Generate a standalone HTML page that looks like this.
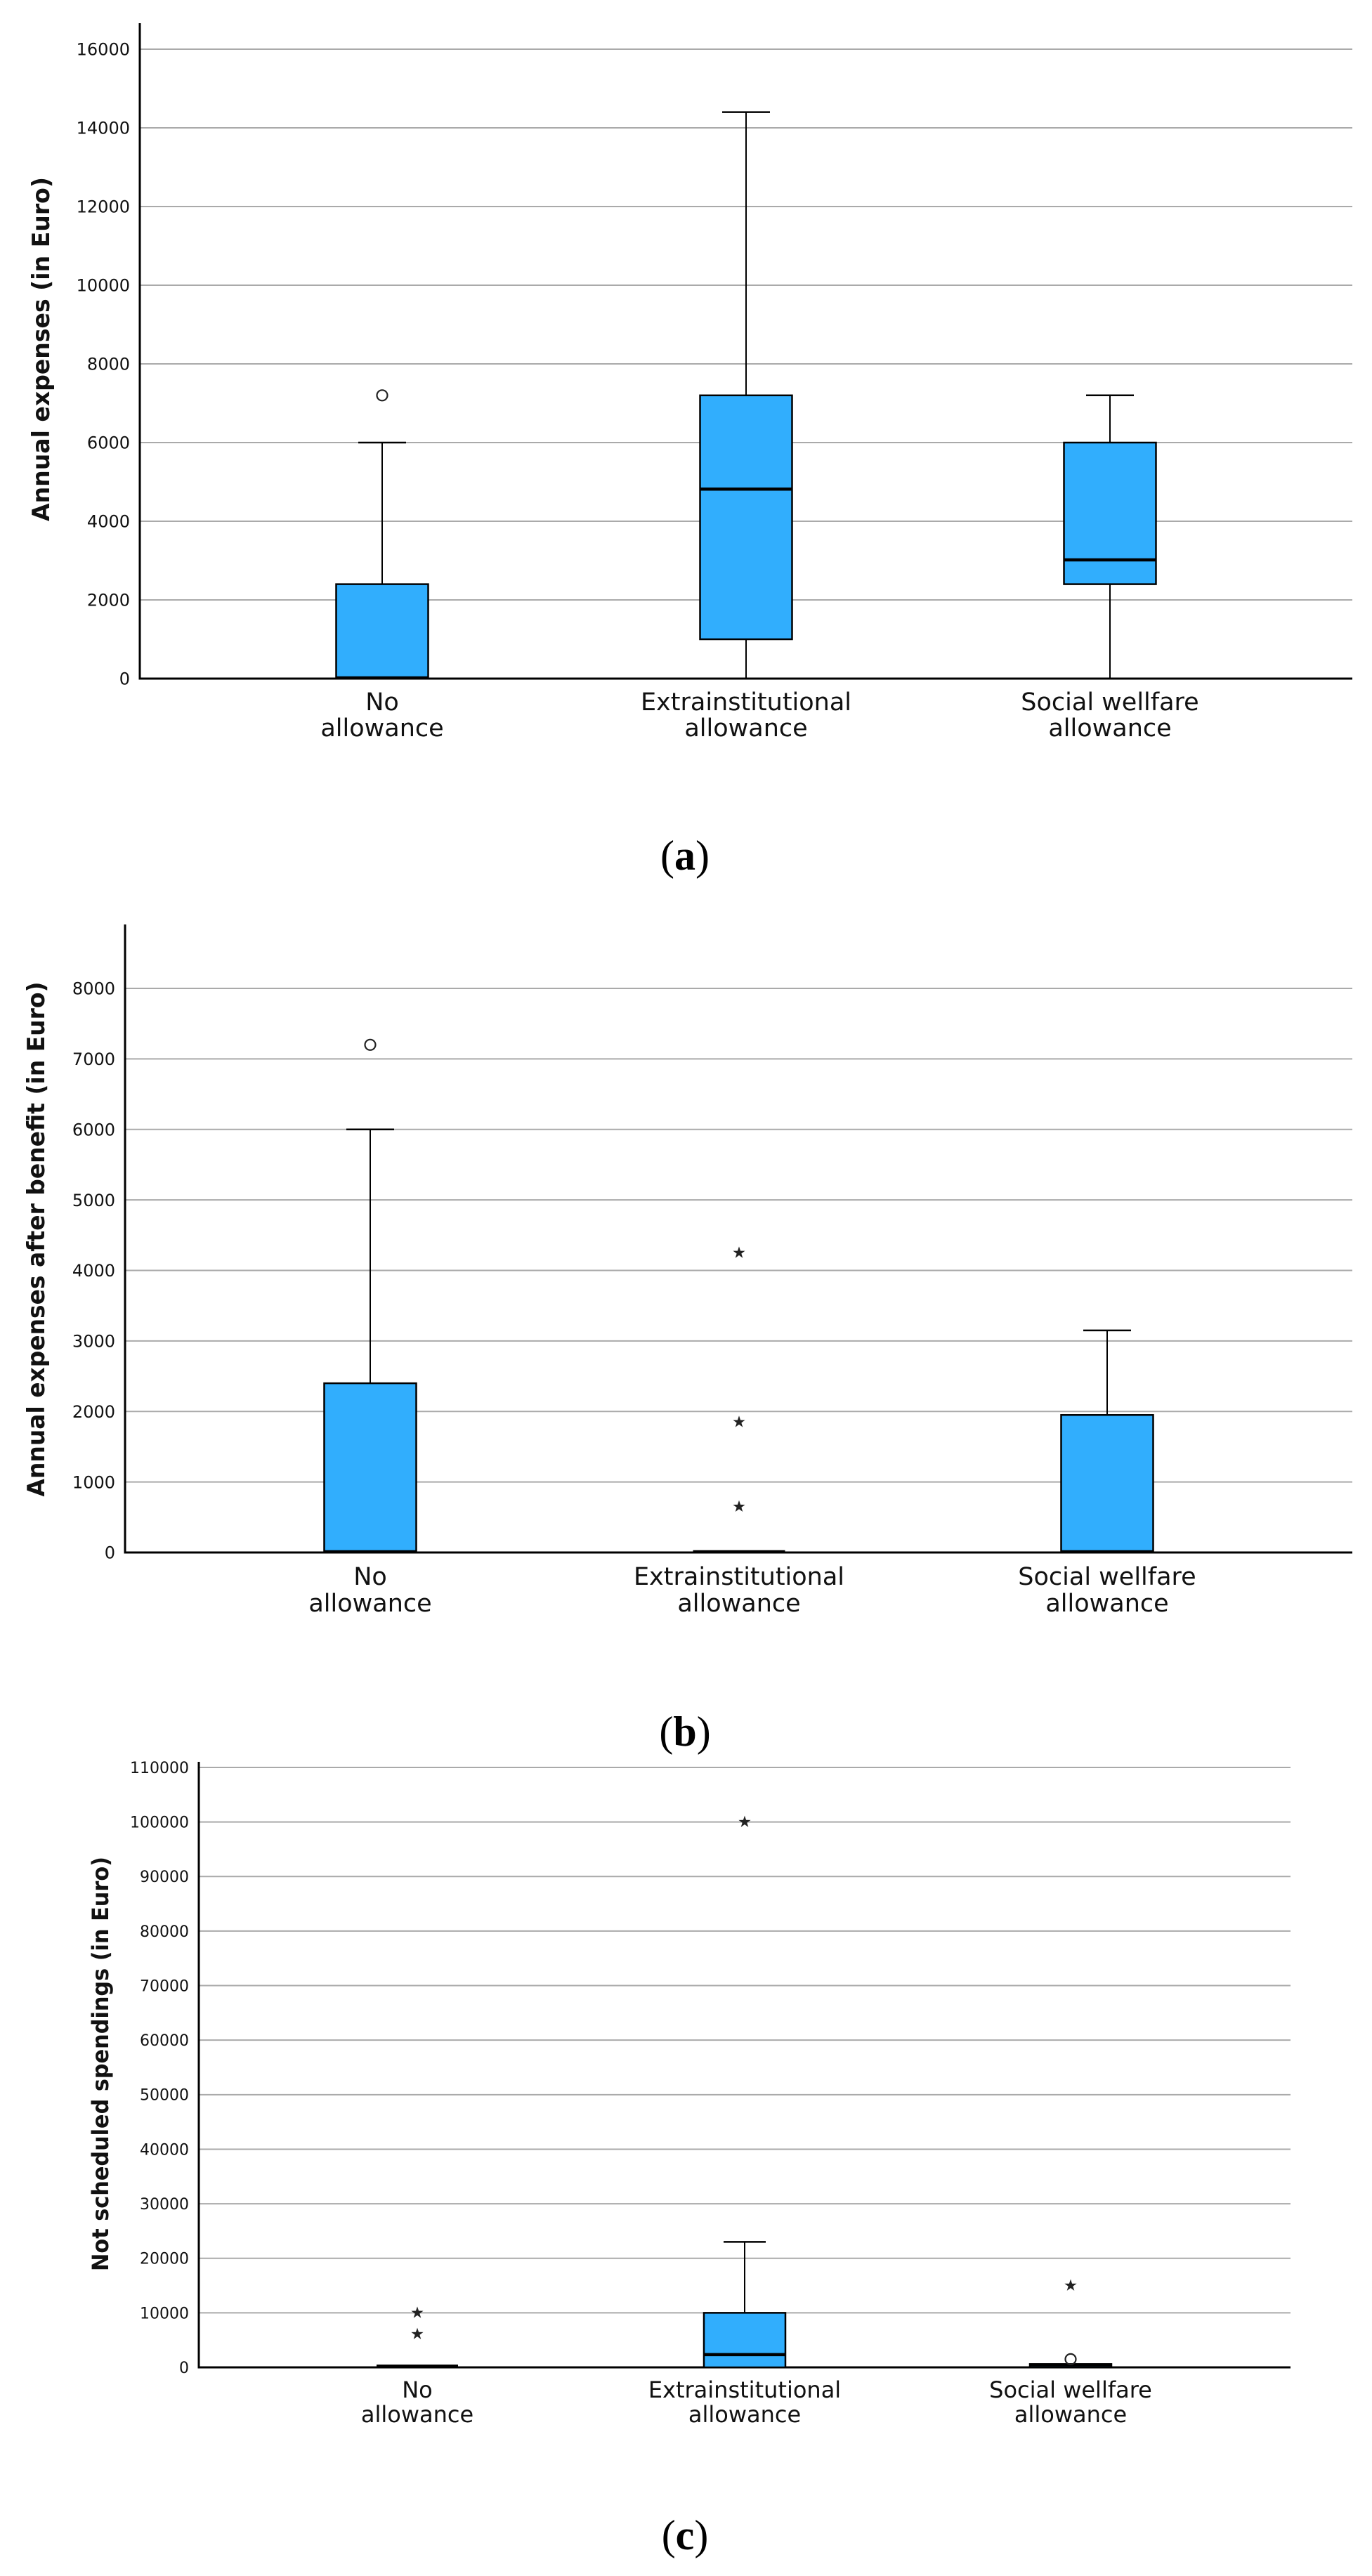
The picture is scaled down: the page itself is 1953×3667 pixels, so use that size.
<!DOCTYPE html>
<html><head><meta charset="utf-8">
<style>
html,body{margin:0;padding:0;background:#fff;}
svg{display:block;}
</style></head>
<body>
<svg id="fig" xmlns="http://www.w3.org/2000/svg" width="1953" height="3667" viewBox="0 0 1953 3667">
<rect x="0" y="0" width="1953" height="3667" fill="#fff"/>
</svg>
<script>
// ---- Data (panel a) ----
const catsA = ["No|allowance", "Extrainstitutional|allowance", "Social wellfare|allowance"];
const minA = [0, 0, 0];
const q1A = [0, 1000, 2400];
const medA = [0, 4800, 3000];
const q3A = [2400, 7200, 6000];
const maxA = [6000, 14400, 7200];
const circA = [[7200], [], []];
const starA = [[], [], []];
const ticksA = [0, 2000, 4000, 6000, 8000, 10000, 12000, 14000, 16000];

// ---- Data (panel b) ----
const catsB = ["No|allowance", "Extrainstitutional|allowance", "Social wellfare|allowance"];
const minB = [0, 0, 0];
const q1B = [0, 0, 0];
const medB = [0, 0, 0];
const q3B = [2400, 0, 1950];
const maxB = [6000, 0, 3150];
const circB = [[7200], [], []];
const starB = [[], [4250, 1850, 650], []];
const ticksB = [0, 1000, 2000, 3000, 4000, 5000, 6000, 7000, 8000];

// ---- Data (panel c) ----
const catsC = ["No|allowance", "Extrainstitutional|allowance", "Social wellfare|allowance"];
const minC = [0, 0, 0];
const q1C = [0, 0, 0];
const medC = [100, 2200, 300];
const q3C = [150, 10000, 600];
const maxC = [150, 23000, 600];
const circC = [[], [], [1500]];
const starC = [[10000, 6100], [100000], [15000]];
const ticksC = [0, 10000, 20000, 30000, 40000, 50000, 60000, 70000, 80000, 90000, 100000, 110000];

const NS = "http://www.w3.org/2000/svg";
const svg = document.getElementById("fig");
function mk(tag, attrs, parent) {
  const e = document.createElementNS(NS, tag);
  for (const k in attrs) e.setAttribute(k, attrs[k]);
  (parent || svg).appendChild(e);
  return e;
}

function panel(cfg) {
  const g = mk("g", {});
  
  
  const y = v => cfg.y0 - (v - 0) / (cfg.vmax) * (cfg.y0 - cfg.yTop);
  const xc = i => cfg.xs[i];
  // gridlines + ticks
  cfg.ticks.forEach(t => {
    if (t !== 0) {
      const gl = mk("line", {x1: cfg.ax, x2: cfg.right, y1: y(t), y2: y(t), stroke: "#aaaaaa", "stroke-width": 2}, g);
      
      
    }
    const tl = mk("text", {x: cfg.ax - 14, y: y(t) + cfg.tickFs * 0.36, "text-anchor": "end", "font-family": "DejaVu Sans, Liberation Sans, sans-serif", "font-size": cfg.tickFs, fill: "#111"}, g);
    tl.textContent = String(t);
    
    
  });
  // axes
  const ya = mk("line", {x1: cfg.ax, x2: cfg.ax, y1: cfg.axTop, y2: cfg.y0 + 1.5, stroke: "#000", "stroke-width": 3}, g);
  
  
  const xa = mk("line", {x1: cfg.ax - 1.5, x2: cfg.right, y1: cfg.y0, y2: cfg.y0, stroke: "#000", "stroke-width": 3}, g);
  
  
  // y title
  const tt = mk("text", {x: 0, y: 0, transform: `translate(${cfg.titleX},${cfg.titleY}) rotate(-90)`, "text-anchor": "middle", "font-family": "DejaVu Sans, Liberation Sans, sans-serif", "font-weight": "bold", "font-size": cfg.titleFs, fill: "#111", textLength: cfg.titleLen, lengthAdjust: "spacingAndGlyphs"}, g);
  tt.textContent = cfg.title;
  
  
  // boxes
  cfg.cats.forEach((c, i) => {
    const bx = xc(i) - cfg.bw / 2;
    if (cfg.max[i] > cfg.q3[i]) {
      const w1 = mk("line", {x1: xc(i), x2: xc(i), y1: y(cfg.q3[i]), y2: y(cfg.max[i]), stroke: "#000", "stroke-width": 2}, g);
      
      
      const cap = mk("line", {x1: xc(i) - cfg.cw / 2, x2: xc(i) + cfg.cw / 2, y1: y(cfg.max[i]), y2: y(cfg.max[i]), stroke: "#000", "stroke-width": 2.5}, g);
      
      
    }
    if (cfg.q1[i] > cfg.min[i]) {
      const w2 = mk("line", {x1: xc(i), x2: xc(i), y1: y(cfg.min[i]), y2: y(cfg.q1[i]), stroke: "#000", "stroke-width": 2}, g);
      
      
    }
    const h = y(cfg.q1[i]) - y(cfg.q3[i]);
    if (h > 3) {
      const r = mk("rect", {x: bx, y: y(cfg.q3[i]), width: cfg.bw, height: h, fill: "#31aefd", stroke: "#000", "stroke-width": 2.5}, g);
      
      
    } else {
      const r = mk("rect", {x: bx, y: y(cfg.q3[i]) - 2, width: cfg.bw, height: Math.max(h, 0) + 3, fill: "#000"}, g);
      
      
    }
    const md = mk("line", {x1: bx, x2: bx + cfg.bw, y1: y(cfg.med[i]) - 1, y2: y(cfg.med[i]) - 1, stroke: "#000", "stroke-width": 4.5}, g);
    
    
    cfg.circ[i].forEach(v => {
      const o = mk("circle", {cx: xc(i), cy: y(v), r: 7.5, fill: "none", stroke: "#222", "stroke-width": 2.2}, g);
      
      
    });
    cfg.star[i].forEach(v => {
      let d = "";
      for (let k = 0; k < 10; k++) {
        const rr = k % 2 ? 3.5 : 9;
        const a = -Math.PI / 2 + k * Math.PI / 5;
        d += (k ? "L" : "M") + (xc(i) + rr * Math.cos(a)).toFixed(2) + "," + (y(v) + rr * Math.sin(a)).toFixed(2);
      }
      const s = mk("path", {d: d + "Z", fill: "#222"}, g);
      
      
    });
    // category label
    const parts = c.split("|");
    parts.forEach((p, k) => {
      const lt = mk("text", {x: xc(i), y: cfg.labY + k * cfg.labGap, "text-anchor": "middle", "font-family": "DejaVu Sans, Liberation Sans, sans-serif", "font-size": cfg.labFs, fill: "#111"}, g);
      lt.textContent = p;
      
      
    });
  });
  const pl = mk("text", {x: 975, y: cfg.capY, "text-anchor": "middle", "font-family": "Liberation Serif, serif", "font-size": 60, fill: "#000"}, g);
  pl.innerHTML = '(<tspan font-weight="bold">' + cfg.cap + '</tspan>)';
  
  
}

panel({name: "panel-a", cats: catsA, min: minA, q1: q1A, med: medA, q3: q3A, max: maxA, circ: circA, star: starA, ticks: ticksA,
  vmax: 16000, y0: 966, yTop: 70, ax: 199, axTop: 33, right: 1925, xs: [544, 1062, 1580], bw: 131, cw: 68,
  tickFs: 24, title: "Annual expenses (in Euro)", titleX: 70, titleY: 497, titleLen: 490, titleFs: 34,
  labY: 1011, labGap: 37, labFs: 35, capY: 1238, cap: "a"});
panel({name: "panel-b", cats: catsB, min: minB, q1: q1B, med: medB, q3: q3B, max: maxB, circ: circB, star: starB, ticks: ticksB,
  vmax: 8000, y0: 2210, yTop: 1407, ax: 178, axTop: 1316, right: 1925, xs: [527, 1052, 1576], bw: 131, cw: 68,
  tickFs: 24, title: "Annual expenses after benefit (in Euro)", titleX: 63, titleY: 1764, titleLen: 733, titleFs: 34,
  labY: 2256, labGap: 38, labFs: 35, capY: 2485, cap: "b"});
panel({name: "panel-c", cats: catsC, min: minC, q1: q1C, med: medC, q3: q3C, max: maxC, circ: circC, star: starC, ticks: ticksC,
  vmax: 110000, y0: 3370, yTop: 2516, ax: 283, axTop: 2508, right: 1837, xs: [594, 1060, 1524], bw: 116, cw: 60,
  tickFs: 22, title: "Not scheduled spendings (in Euro)", titleX: 154, titleY: 2938, titleLen: 590, titleFs: 32,
  labY: 3413, labGap: 35, labFs: 32, capY: 3629, cap: "c"});
</script>
</body></html>
